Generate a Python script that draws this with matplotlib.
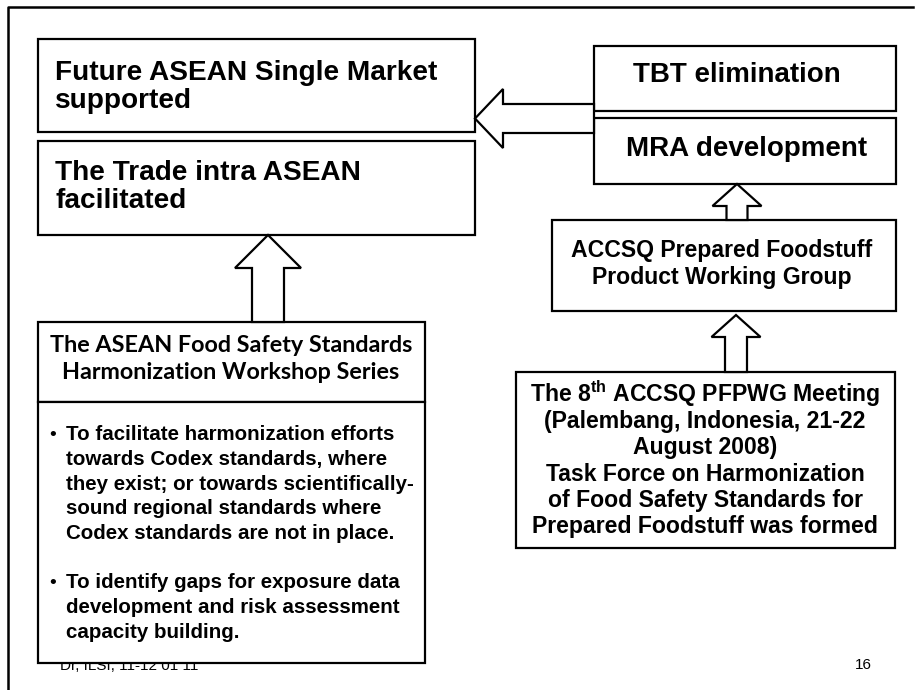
import matplotlib.pyplot as plt
from matplotlib.patches import Rectangle, Polygon

plt.rcParams['mathtext.fontset'] = 'custom'
plt.rcParams['mathtext.rm'] = 'Liberation Sans'
plt.rcParams['mathtext.bf'] = 'Liberation Sans:bold'

# slide texts
goal_lines = ["Future ASEAN Single Market", "supported"]
trade_lines = ["The Trade intra ASEAN", "facilitated"]
tbt_label = "TBT elimination"
mra_label = "MRA development"
accsq_lines = ["ACCSQ Prepared Foodstuff", "Product Working Group"]
meeting_lines = [r"The 8$^{\mathbf{th}}$ ACCSQ PFPWG Meeting",
                 "(Palembang, Indonesia, 21-22",
                 "August 2008)",
                 "Task Force on Harmonization",
                 "of Food Safety Standards for",
                 "Prepared Foodstuff was formed"]
workshop_lines = ["The ASEAN Food Safety Standards",
                  "Harmonization Workshop Series"]
bullet_1 = ["To facilitate harmonization efforts",
            "towards Codex standards, where",
            "they exist; or towards scientifically-",
            "sound regional standards where",
            "Codex standards are not in place."]
bullet_2 = ["To identify gaps for exposure data",
            "development and risk assessment",
            "capacity building."]
footer_left = "Dr, ILSI, 11-12 01 11"
page_no = "16"

W, H = 917, 690
SANS = 'Liberation Sans'
LW = 1.6

fig = plt.figure(figsize=(W / 100, H / 100), dpi=100)
ax = fig.add_axes([0, 0, 1, 1])
ax.set_xlim(0, W)
ax.set_ylim(H, 0)
ax.axis('off')


def box(x0, y0, x1, y1, z=2):
    ax.add_patch(Rectangle((x0, y0), x1 - x0, y1 - y0, facecolor='white',
                           edgecolor='black', lw=LW, zorder=z))


def up_arrow(cx, tip, base, bottom, hw, sw):
    pts = [(cx, tip), (cx + hw, base), (cx + sw, base), (cx + sw, bottom),
           (cx - sw, bottom), (cx - sw, base), (cx - hw, base)]
    ax.add_patch(Polygon(pts, closed=True, facecolor='white',
                         edgecolor='black', lw=LW, zorder=3))


def left_arrow(cy, tip, base, tail, hw, sw):
    pts = [(tip, cy), (base, cy - hw), (base, cy - sw), (tail, cy - sw),
           (tail, cy + sw), (base, cy + sw), (base, cy + hw)]
    ax.add_patch(Polygon(pts, closed=True, facecolor='white',
                         edgecolor='black', lw=LW, zorder=3))


def lines(txt, x, y0, step, size, ha='center', family=SANS):
    for i, t in enumerate(txt):
        ax.text(x, y0 + i * step, t, ha=ha, va='baseline', fontsize=size,
                fontweight='bold', family=family, zorder=5)


# slide frame (top and left edge only)
ax.plot([8, 8, 913], [H, 7, 7], color='black', lw=1.8, zorder=1)

# left column
box(38, 39, 475, 132)
lines(goal_lines, 55, 80, 28, 20.2, ha='left')
box(38, 141, 475, 235)
lines(trade_lines, 55, 179.5, 29, 20.2, ha='left')

up_arrow(268, 235, 268, 322, 33, 16)

ax.text(60, 670, footer_left, ha='left', va='baseline', fontsize=11,
        family=SANS, zorder=1)

box(38, 322, 425, 402)
lines(workshop_lines, 231, 352, 26.7, 16.8, family='Lato')
box(38, 402, 425, 663)
for y0, txt in [(440, bullet_1), (588, bullet_2)]:
    ax.text(49, y0, "\u2022", ha='left', va='baseline', fontsize=14,
            family=SANS, zorder=5)
    lines(txt, 66, y0, 24.8, 14.8, ha='left')

# right column
box(594, 46, 896, 111)
ax.text(737, 82.5, tbt_label, ha='center', va='baseline', fontsize=20,
        fontweight='bold', family=SANS, zorder=5)
box(594, 118, 896, 184)
ax.text(747, 156.5, mra_label, ha='center', va='baseline', fontsize=20,
        fontweight='bold', family=SANS, zorder=5)

left_arrow(118.5, 475, 503, 594, 29.5, 14.5)

up_arrow(737, 184, 206, 220, 24.5, 10.5)
box(552, 220, 896, 311)
lines(accsq_lines, 721.5, 256.7, 27.6, 16.6)

up_arrow(736, 315, 337, 372, 24.5, 11)
box(516, 372, 895, 548)
lines(meeting_lines, 705, 401.7, 26.3, 16.6)

ax.text(863, 669, page_no, ha='center', va='baseline', fontsize=11,
        family=SANS, zorder=5)

fig.savefig('out.png', dpi=100)
